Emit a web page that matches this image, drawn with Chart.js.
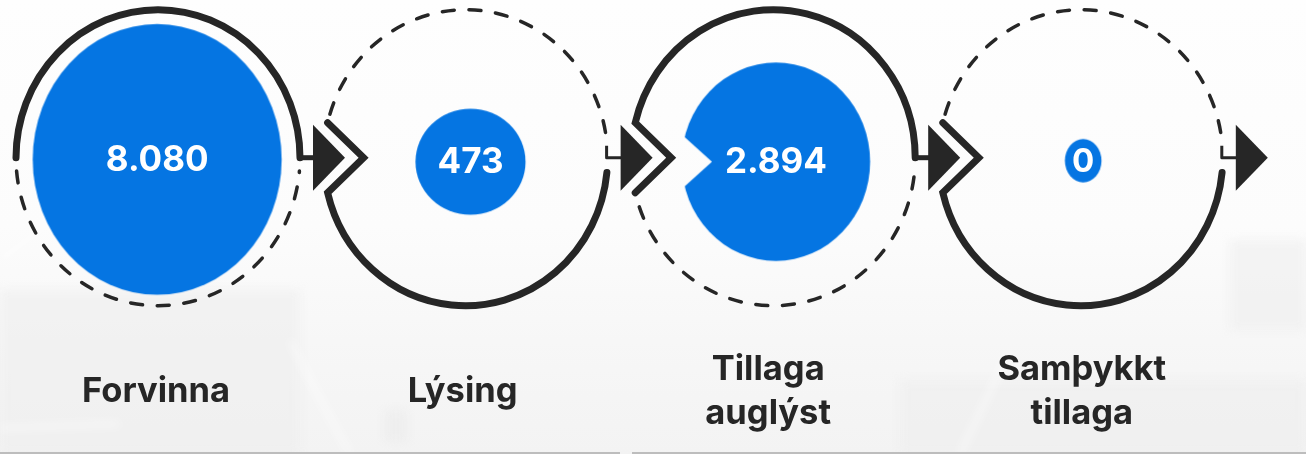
<!DOCTYPE html>
<html>
<head>
<meta charset="utf-8">
<title>Skipulagsferli</title>
<script src="https://cdn.jsdelivr.net/npm/chart.js@4"></script>
<style>
  html, body { margin: 0; padding: 0; background: #fdfdfd; overflow: hidden; }
  #wrap { width: 1306px; height: 454px; position: relative; }
</style>
</head>
<body>
<div id="wrap"><canvas id="ferliChart" width="1306" height="454"></canvas></div>
<script>
// Data
const categories = [['Forvinna'], ['Lýsing'], ['Tillaga', 'auglýst'], ['Samþykkt', 'tillaga']];
const values = [8080, 473, 2894, 0];
const valueLabels = ['8.080', '473', '2.894', '0'];

// Colours and drawing settings
const BLUE = '#0575e2';
const INK = '#262626';
const FONT = 'Inter, "Noto Sans", sans-serif';
const ringRx = 142, ringRy = 148;
const solidOnTop = [true, false, true, false];
const stretchX = [1.013, 1.0, 1.048, 0.99];
const stretchY = [1.102, 0.964, 1.103, 1.17];
const nudgeX = [-0.8, 4.9, 2.7, 2.4];
const nudgeY = [1.7, 4, 4, 3];
const labelNudge = [-2, -3, -5, 1];

// bubble size grows with the value but never goes below the small "0" dot
function bubbleRadius(v) {
  return 18.5 + 3.74 * Math.pow(v, 0.37);
}

function makeSprite(i) {
  const r = bubbleRadius(values[i]);
  const rx = r * stretchX[i], ry = r * stretchY[i];
  const c = document.createElement('canvas');
  const padX = Math.ceil(Math.abs(nudgeX[i])) * 2 + 4, padY = Math.ceil(Math.abs(nudgeY[i])) * 2 + 4;
  c.width = Math.ceil(rx * 2) + padX;
  c.height = Math.ceil(ry * 2) + padY;
  const g = c.getContext('2d');
  const mx = c.width / 2 + nudgeX[i], my = c.height / 2 + nudgeY[i];
  g.fillStyle = BLUE;
  g.beginPath();
  g.ellipse(mx, my, rx, ry, 0, 0, Math.PI * 2);
  g.fill();
  if (i === 2) {
    // the chevron of the third step bites into the big bubble
    g.globalCompositeOperation = 'destination-out';
    g.beginPath();
    g.moveTo(mx - rx - 12, my - 38);
    g.lineTo(mx - 64, my);
    g.lineTo(mx - rx - 12, my + 38);
    g.closePath();
    g.fill();
  }
  return c;
}
const sprites = values.map((v, i) => makeSprite(i));

const bgPlugin = {
  id: 'bg',
  beforeDraw(chart) {
    const { ctx, width, height } = chart;
    ctx.save();
    const g = ctx.createLinearGradient(0, 0, 0, height);
    g.addColorStop(0, '#fefefe');
    g.addColorStop(0.5, '#fcfcfc');
    g.addColorStop(0.75, '#f7f7f7');
    g.addColorStop(1, '#f3f3f3');
    ctx.fillStyle = g;
    ctx.fillRect(0, 0, width, height);
    // faint map behind the chart, soft shapes only
    ctx.filter = 'blur(5px)';
    ctx.fillStyle = 'rgba(236,236,236,0.55)';
    ctx.fillRect(0, 290, 300, 164);
    ctx.fillRect(900, 380, 406, 74);
    ctx.fillRect(1230, 240, 76, 90);
    ctx.strokeStyle = 'rgba(255,255,255,0.7)';
    ctx.lineWidth = 4;
    ctx.beginPath();
    ctx.moveTo(0, 260); ctx.lineTo(60, 215);
    ctx.moveTo(290, 340); ctx.quadraticCurveTo(320, 400, 350, 454);
    ctx.moveTo(0, 428); ctx.lineTo(120, 424);
    ctx.moveTo(960, 454); ctx.lineTo(1010, 350);
    ctx.stroke();
    ctx.fillStyle = 'rgba(225,225,225,0.3)';
    ctx.fillRect(385, 410, 22, 32);
    ctx.filter = 'none';
    ctx.fillStyle = '#bdbdbd';
    ctx.fillRect(0, 452, 620, 2);
    ctx.fillRect(632, 452, 674, 2);
    ctx.restore();
  }
};

const ringPlugin = {
  id: 'rings',
  beforeDatasetsDraw(chart) {
    const { ctx } = chart;
    const xs = chart.scales.x, ys = chart.scales.y;
    const cy = ys.getPixelForValue(0);
    const chevT = Math.asin(35 / ringRy);
    ctx.save();
    ctx.strokeStyle = INK;
    ctx.fillStyle = INK;
    values.forEach((v, i) => {
      const cx = xs.getPixelForValue(i);
      const hasChevron = i > 0;
      const chevX = cx - ringRx * Math.cos(chevT);
      const tipX = cx - 102;

      // solid half
      ctx.setLineDash([]);
      ctx.lineWidth = 7;
      ctx.lineCap = 'round';
      ctx.lineJoin = 'miter';
      ctx.beginPath();
      if (solidOnTop[i]) {
        if (hasChevron) {
          ctx.moveTo(chevX, cy + 35);
          ctx.lineTo(tipX, cy);
          ctx.lineTo(chevX, cy - 35);
          ctx.ellipse(cx, cy, ringRx, ringRy, 0, Math.PI + chevT, Math.PI * 2);
        } else {
          ctx.ellipse(cx, cy, ringRx, ringRy, 0, Math.PI, Math.PI * 2);
        }
      } else {
        ctx.ellipse(cx, cy, ringRx, ringRy, 0, 0.1, Math.PI - chevT);
        ctx.lineTo(tipX, cy);
        ctx.lineTo(chevX, cy - 35);
      }
      ctx.stroke();

      // dashed half
      ctx.lineWidth = 3.5;
      ctx.setLineDash([12, 14.7]);
      ctx.beginPath();
      if (solidOnTop[i]) {
        ctx.ellipse(cx, cy, ringRx, ringRy, 0, hasChevron ? Math.PI - chevT - 0.1 : Math.PI - 0.09, 0.09, true);
      } else {
        ctx.ellipse(cx, cy, ringRx, ringRy, 0, Math.PI + chevT + 0.06, Math.PI * 2 - 0.16, false);
      }
      ctx.stroke();

      // stem and arrow head on the right side
      const right = cx + ringRx;
      ctx.setLineDash([]);
      ctx.lineCap = 'butt';
      ctx.lineJoin = 'round';
      ctx.lineWidth = solidOnTop[i] ? 5 : 3;
      ctx.beginPath();
      if (solidOnTop[i]) {
        ctx.moveTo(right - 2, cy);
      } else {
        ctx.moveTo(right - 1, cy - 12);
        ctx.lineTo(right - 1, cy);
      }
      ctx.lineTo(right + 14, cy);
      ctx.stroke();
      ctx.beginPath();
      ctx.moveTo(right + 13, cy - 33);
      ctx.lineTo(right + 45, cy);
      ctx.lineTo(right + 13, cy + 33);
      ctx.closePath();
      ctx.fill();
    });
    ctx.restore();
  }
};

const textPlugin = {
  id: 'texts',
  afterDatasetsDraw(chart) {
    const { ctx } = chart;
    const meta = chart.getDatasetMeta(0);
    const xs = chart.scales.x, ys = chart.scales.y;
    ctx.save();
    ctx.textAlign = 'center';
    ctx.textBaseline = 'middle';
    meta.data.forEach((el, i) => {
      ctx.fillStyle = '#ffffff';
      ctx.font = '700 ' + (values[i] === 0 ? 33 : 35) + 'px ' + FONT;
      ctx.fillText(valueLabels[i], el.x + nudgeX[i], el.y + nudgeY[i] + 1);
    });
    ctx.fillStyle = INK;
    ctx.font = '700 34.5px ' + FONT;
    categories.forEach((lines, i) => {
      const x = xs.getPixelForValue(i) + labelNudge[i];
      const mid = ys.getPixelForValue(-233.5);
      lines.forEach((line, k) => {
        ctx.fillText(line, x, mid + (k - (lines.length - 1) / 2) * 44);
      });
    });
    ctx.restore();
  }
};

const ctx = document.getElementById('ferliChart').getContext('2d');
const ferliChart = new Chart(ctx, {
  type: 'bubble',
  data: {
    datasets: [{
      label: 'Fjöldi',
      data: values.map((v, i) => ({ x: i, y: 0, r: bubbleRadius(v) })),
      backgroundColor: BLUE,
      borderWidth: 0,
      clip: false,
      pointStyle: c => sprites[c.dataIndex]
    }]
  },
  options: {
    responsive: false,
    animation: false,
    events: [],
    layout: { padding: 0, autoPadding: false },
    plugins: { legend: { display: false }, tooltip: { enabled: false } },
    scales: {
      x: { type: 'linear', display: false, min: -158 / 307.6, max: (1306 - 158) / 307.6 },
      y: { type: 'linear', display: false, min: -296.3, max: 157.7 }
    }
  },
  plugins: [bgPlugin, ringPlugin, textPlugin]
});
</script>
</body>
</html>
